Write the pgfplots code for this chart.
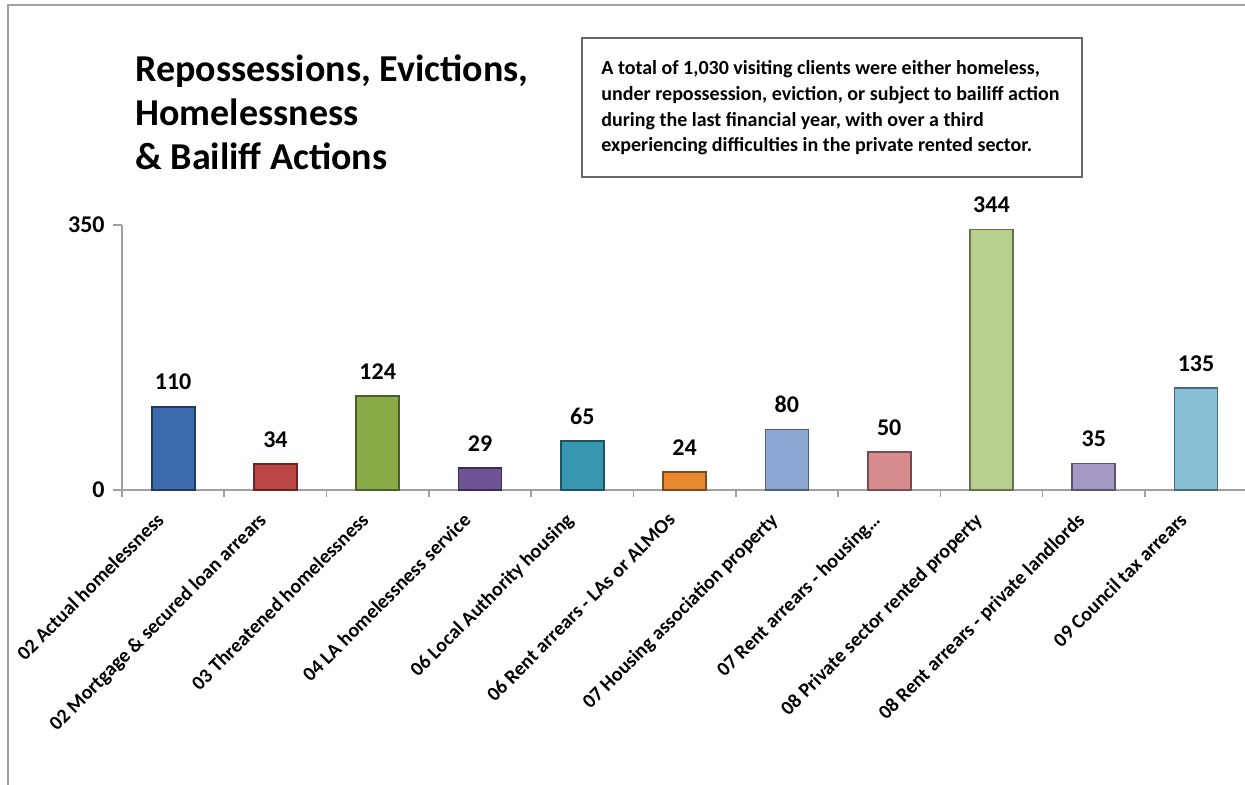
\documentclass[border=0pt]{standalone}
\usepackage{fontspec}
\setmainfont{Carlito}
\usepackage{pgfplots}
\pgfplotsset{compat=1.18}
\definecolor{c1}{HTML}{3B6BAA}
\definecolor{c2}{HTML}{BA4542}
\definecolor{c3}{HTML}{8AAB48}
\definecolor{c4}{HTML}{6E5495}
\definecolor{c5}{HTML}{3797B1}
\definecolor{c6}{HTML}{E8892F}
\definecolor{c7}{HTML}{8EA8D4}
\definecolor{c8}{HTML}{D68B8D}
\definecolor{c9}{HTML}{B9CF8D}
\definecolor{c10}{HTML}{A698C4}
\definecolor{c11}{HTML}{87C0D6}
\definecolor{framegray}{HTML}{A0A0A0}
\begin{document}
\begin{tikzpicture}
\useasboundingbox (0,0) rectangle (622.5pt,-392.5pt);
\draw[framegray, line width=1pt] (4pt,-392.5pt) -- (4pt,-2.5pt) -- (622.5pt,-2.5pt);
% title
\begin{scope}[every node/.style={anchor=base west, inner sep=0pt, font=\bfseries\fontsize{19}{22}\selectfont}]
\node at (67.5pt,-41pt) {Repossessions, Evictions,};
\node at (67.5pt,-63pt) {Homelessness};
\node at (67.5pt,-85pt) {\& Bailiff Actions};
\end{scope}
% text box
\draw[gray!80!black, line width=0.9pt, fill=white] (291pt,-19pt) rectangle (541pt,-88.5pt);
\begin{scope}[every node/.style={anchor=base west, inner sep=0pt, font=\bfseries\fontsize{10}{12}\selectfont}]
\node at (300.5pt,-37.5pt) {A total of 1,030 visiting clients were either homeless,};
\node at (300.5pt,-50.3pt) {under repossession, eviction, or subject to bailiff action};
\node at (300.5pt,-63.1pt) {during the last financial year, with over a third};
\node at (300.5pt,-75.9pt) {experiencing difficulties in the private rented sector.};
\end{scope}
\begin{axis}[
  at={(61pt,-245pt)}, anchor=south west,
  scale only axis, width=562.6pt, height=132.5pt,
  xmin=-0.5, xmax=10.5, ymin=0, ymax=350,
  axis x line=bottom, axis y line=left,
  axis line style={-, framegray, line width=1pt},
  ybar, bar width=21.5pt, bar shift=0pt,
  ytick={0,350},
  xtick={0,...,10},
  minor xtick={-0.5,0.5,...,10.5},
  major x tick style={draw=none},
  minor tick length=3.5pt, major tick length=4.5pt,
  tick align=outside,
  tick style={framegray, line width=0.8pt},
  /pgf/number format/assume math mode=true,
  yticklabel style={font=\bfseries\fontsize{12}{14}\selectfont, inner sep=0pt, xshift=-4pt},
  xticklabel style={font=\bfseries\fontsize{10}{12}\selectfont, inner sep=0pt, anchor=north east, xshift=-9pt, yshift=-6pt, rotate=45},
  xticklabels={02 Actual homelessness, 02 Mortgage \& secured loan arrears, 03 Threatened homelessness, 04 LA homelessness service, 06 Local Authority housing, 06 Rent arrears - LAs or ALMOs, 07 Housing association property, 07 Rent arrears -  housing\ldots, 08 Private sector rented property, 08 Rent arrears - private landlords, 09 Council tax arrears},
  nodes near coords,
  every node near coord/.append style={font=\bfseries\fontsize{12}{14}\selectfont, yshift=4.5pt, black},
  clip=false,
]
\addplot[fill=c1, draw=c1!55!black, line width=0.9pt] coordinates {(0,110)};
\addplot[fill=c2, draw=c2!55!black, line width=0.9pt] coordinates {(1,34)};
\addplot[fill=c3, draw=c3!55!black, line width=0.9pt] coordinates {(2,124)};
\addplot[fill=c4, draw=c4!55!black, line width=0.9pt] coordinates {(3,29)};
\addplot[fill=c5, draw=c5!55!black, line width=0.9pt] coordinates {(4,65)};
\addplot[fill=c6, draw=c6!55!black, line width=0.9pt] coordinates {(5,24)};
\addplot[fill=c7, draw=c7!55!black, line width=0.9pt] coordinates {(6,80)};
\addplot[fill=c8, draw=c8!55!black, line width=0.9pt] coordinates {(7,50)};
\addplot[fill=c9, draw=c9!55!black, line width=0.9pt] coordinates {(8,344)};
\addplot[fill=c10, draw=c10!55!black, line width=0.9pt] coordinates {(9,35)};
\addplot[fill=c11, draw=c11!55!black, line width=0.9pt] coordinates {(10,135)};
\end{axis}
\end{tikzpicture}
\end{document}
